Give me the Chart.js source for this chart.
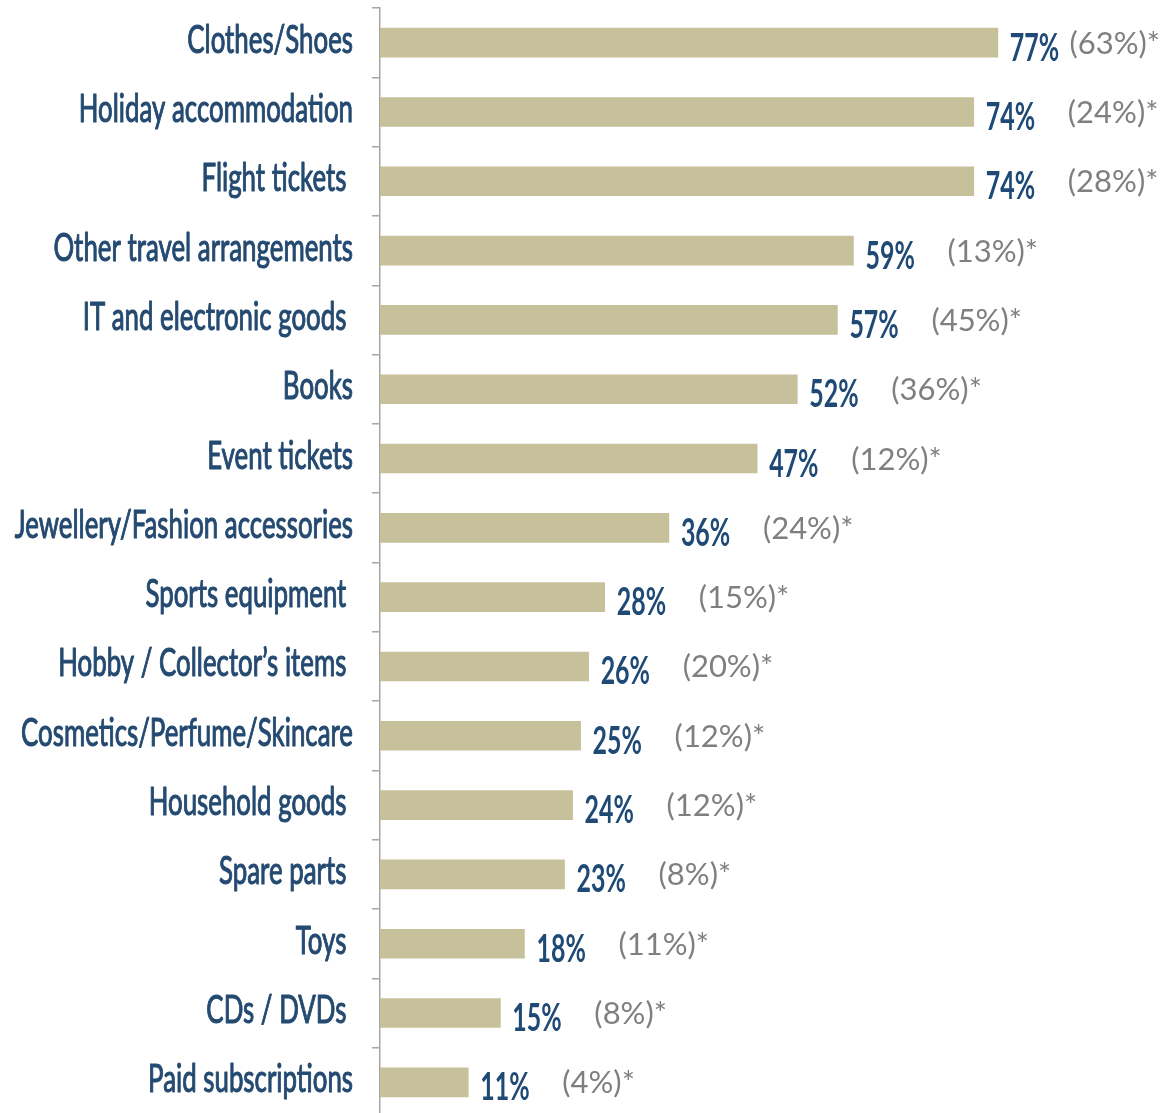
<!DOCTYPE html>
<html>
<head>
<meta charset="utf-8">
<style>
  html, body { margin: 0; padding: 0; background: #ffffff; overflow: hidden; }
  #wrap { width: 1172px; height: 1117px; }
</style>
<script src="https://cdn.jsdelivr.net/npm/chart.js@4/dist/chart.umd.min.js"></script>
</head>
<body>
<div id="wrap"><canvas id="chart" width="1172" height="1117"></canvas></div>
<script>
// Products bought online: share of buyers, with the earlier survey share in brackets
const categories = [
  'Clothes/Shoes',
  'Holiday accommodation',
  'Flight tickets ',
  'Other travel arrangements',
  'IT and electronic goods ',
  'Books',
  'Event tickets',
  'Jewellery/Fashion accessories',
  'Sports equipment ',
  'Hobby / Collector\u2019s items ',
  'Cosmetics/Perfume/Skincare',
  'Household goods ',
  'Spare parts ',
  'Toys ',
  'CDs / DVDs ',
  'Paid subscriptions'
];
const shares = [77, 74, 74, 59, 57, 52, 47, 36, 28, 26, 25, 24, 23, 18, 15, 11];
const earlierShares = [63, 24, 28, 13, 45, 36, 12, 24, 15, 20, 12, 12, 8, 11, 8, 4];

const NAVY = '#244a71';
const NAVY_VALUE = '#1f4a76';
const GREY = '#7f7f7f';
const BAR = '#c6c09b';
const AXIS = '#a6a6a6';

// Draws condensed text (the label face is a tall, narrow sans);
// a thin outline in the fill colour gives it a slightly heavier stroke
function condensedText(ctx, text, x, y, scaleX, align, outline) {
  ctx.save();
  ctx.translate(x, y);
  ctx.scale(scaleX, 1);
  ctx.textAlign = align;
  ctx.fillText(text, 0, 0);
  if (outline) {
    ctx.strokeStyle = ctx.fillStyle;
    ctx.lineWidth = outline;
    ctx.lineJoin = 'round';
    ctx.strokeText(text, 0, 0);
  }
  ctx.restore();
}

const labelPlugin = {
  id: 'rowLabels',
  afterDatasetsDraw(chart) {
    const ctx = chart.ctx;
    const yScale = chart.scales.y;
    const meta = chart.getDatasetMeta(0);
    const labelRight = yScale.right - 27;
    ctx.save();
    ctx.textBaseline = 'alphabetic';

    // category names, right-aligned against the axis
    ctx.fillStyle = NAVY;
    ctx.font = '38px Lato, "Liberation Sans", sans-serif';
    categories.forEach((name, i) => {
      const cy = yScale.getPixelForValue(i);
      condensedText(ctx, name, labelRight, cy + 10, 0.68, 'right', 1.1);
    });

    // bar values and earlier-survey values
    meta.data.forEach((bar, i) => {
      const end = bar.x;
      const cy = bar.y;
      ctx.fillStyle = NAVY_VALUE;
      ctx.font = 'bold 39px Lato, "Liberation Sans", sans-serif';
      condensedText(ctx, shares[i] + '%', end + 12, cy + 18, 0.64, 'left', 0);

      ctx.fillStyle = GREY;
      ctx.font = '31px Lato, "Liberation Sans", sans-serif';
      ctx.textAlign = 'left';
      const txt = '(' + earlierShares[i] + '%)*';
      const w = ctx.measureText(txt).width;
      const gx = Math.min(end + 94, chart.width - 12 - w);
      ctx.fillText(txt, gx, cy + 11);
    });
    ctx.restore();
  }
};

function build() {
  new Chart(document.getElementById('chart'), {
    type: 'bar',
    data: {
      labels: categories,
      datasets: [{
        data: shares,
        backgroundColor: BAR,
        borderWidth: 0,
        barThickness: 29
      }]
    },
    options: {
      indexAxis: 'y',
      responsive: false,
      animation: false,
      devicePixelRatio: 1,
      layout: { padding: { top: 8, right: 0, bottom: 0, left: 0 } },
      plugins: {
        legend: { display: false },
        tooltip: { enabled: false }
      },
      scales: {
        x: {
          display: false,
          min: 0,
          max: 98.7
        },
        y: {
          afterFit(scale) { scale.width = 380; },
          ticks: { display: false },
          border: { display: true, color: AXIS, width: 1.5 },
          grid: {
            drawOnChartArea: false,
            drawTicks: true,
            tickLength: 8,
            color: AXIS,
            lineWidth: 1.5
          }
        }
      }
    },
    plugins: [labelPlugin]
  });
}

Promise.all([
  document.fonts.load('38px Lato'),
  document.fonts.load('bold 39px Lato'),
  document.fonts.load('31px Lato')
]).then(build, build);
</script>
</body>
</html>
